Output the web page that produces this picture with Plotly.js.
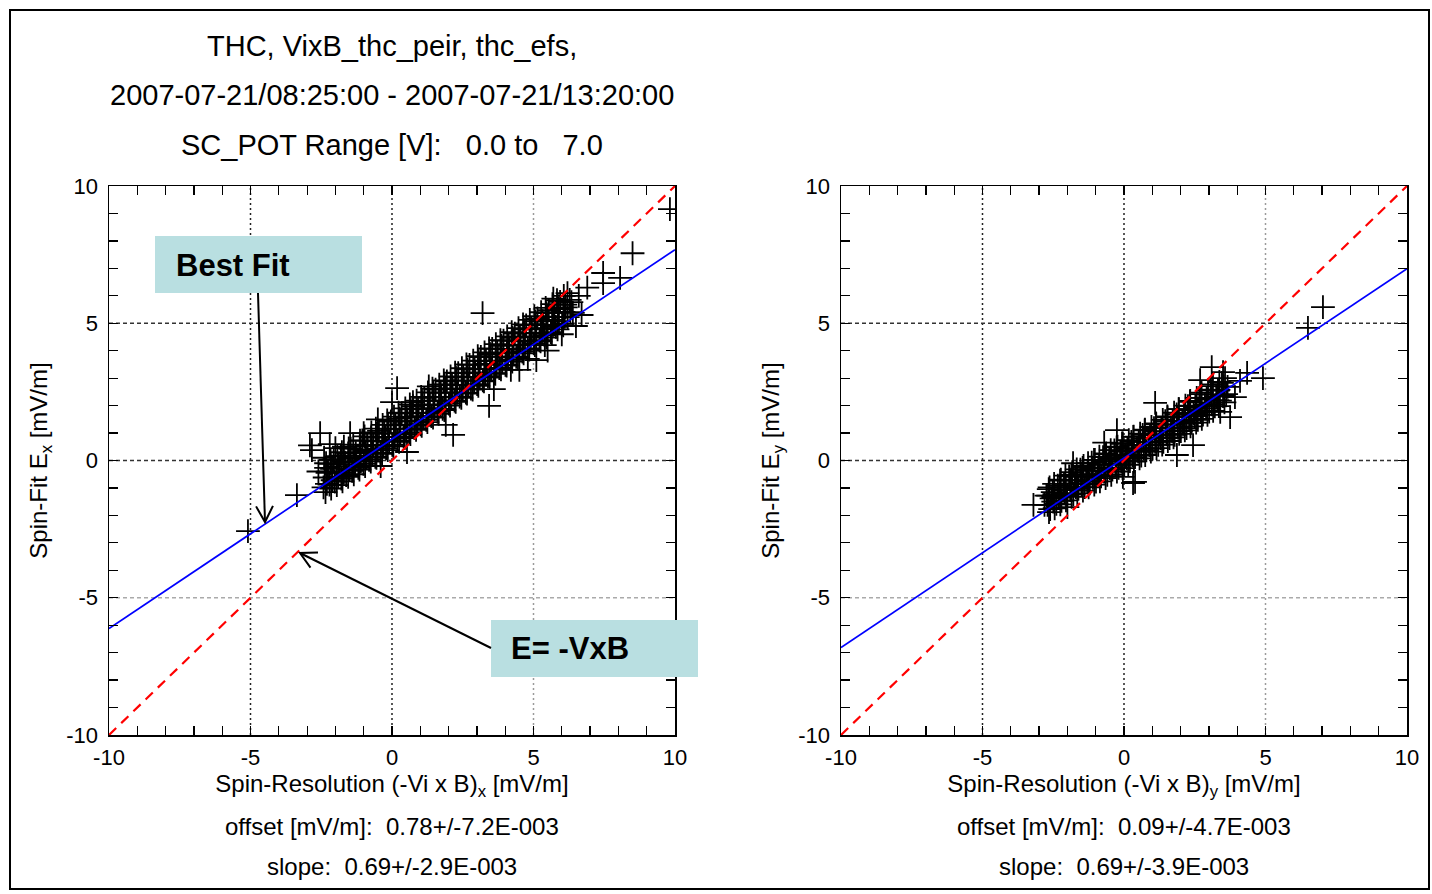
<!DOCTYPE html>
<html>
<head>
<meta charset="utf-8">
<script src="https://cdn.plot.ly/plotly-3.0.1.min.js"></script>
<style>html,body{margin:0;padding:0;background:#fff;}#chart{width:1432px;height:894px;}</style>
</head>
<body>
<div id="chart"></div>
<script>
// ---------------- DATA ----------------
const titleLines = ["THC, VixB_thc_peir, thc_efs,", "2007-07-21/08:25:00 - 2007-07-21/13:20:00", "SC_POT Range [V]:\u00a0\u00a0\u00a00.0 to\u00a0\u00a0\u00a07.0"];
const tickVals = [-10, -5, 0, 5, 10];
const tickText = ["-10", "-5", "0", "5", "10"];
const gridVals = [-5, 0, 5];
const lineX = [-10, 10];

// Left panel: Spin-Resolution (-Vi x B)x vs Spin-Fit Ex
const leftCoreX = [
 -2.42,-2.38,-2.33, -2.21,-2.26,-2.17, -2.02,-1.95,-2.06, -1.79,-1.86,-1.81, -1.62,-1.66,-1.55,
 -1.41,-1.34,-1.46, -1.19,-1.26,-1.14, -1.01,-0.94,-1.05, -0.81,-0.86,-0.74, -0.59,-0.66,-0.55,
 -0.41,-0.35,-0.46, -0.21,-0.24,-0.14, 0.01,0.06,-0.04, 0.19,0.14,0.26, 0.41,0.46,0.34,
 0.61,0.54,0.66, 0.79,0.86,0.74, 1.01,0.94,1.06, 1.21,1.26,1.14, 1.39,1.34,1.46,
 1.61,1.66,1.54, 1.79,1.74,1.86, 2.01,2.06,1.94, 2.21,2.14,2.26, 2.39,2.46,2.34,
 2.61,2.54,2.66, 2.79,2.86,2.74, 3.01,2.94,3.06, 3.21,3.26,3.14, 3.39,3.34,3.46,
 3.61,3.66,3.54, 3.79,3.74,3.86, 4.01,4.06,3.94, 4.21,4.14,4.26, 4.39,4.46,4.34,
 4.61,4.54,4.66, 4.79,4.86,4.74, 5.01,4.94,5.06, 5.21,5.26,5.14, 5.39,5.34,5.46,
 5.61,5.66,5.54, 5.79,5.74,5.86, 6.01,6.06,5.94, 6.21,6.14, 6.39,6.34,
 -2.3,-2.28, -2.1,-2.12, -1.9,-1.88, -1.7,-1.72, -1.5,-1.52, -1.3,-1.28, -1.1,-1.12, -0.9,-0.88,
 -0.7,-0.72, -0.5,-0.52, -0.3,-0.28, -0.1,-0.12, 0.1,0.12, 0.3,0.28, 0.5,0.52, 0.7,0.68,
 0.9,0.92, 1.1,1.08, 1.3,1.32, 1.5,1.48, 1.7,1.72, 1.9,1.88, 2.1,2.12, 2.3,2.28,
 2.5,2.52, 2.7,2.68, 2.9,2.92, 3.1,3.08, 3.3,3.32, 3.5,3.48, 3.7,3.72, 3.9,3.88,
 4.1,4.12, 4.3,4.28, 4.5,4.52, 4.7,4.68, 4.9,4.92, 5.1,5.08, 5.3,5.32, 5.5,5.48,
 5.7,5.72, 5.9,5.88, 6.1,6.12, 6.3,6.28
];
const leftCoreY = [
 -0.98,-0.62,-0.27, -0.88,-0.41,-0.12, -0.77,-0.43,0.04, -0.66,-0.22,0.18, -0.53,-0.08,0.26,
 -0.38,0.06,0.43, -0.27,0.17,0.52, -0.12,0.31,0.73, 0.02,0.38,0.84, 0.13,0.57,0.97,
 0.28,0.72,1.08, 0.44,0.86,1.31, 0.57,0.98,1.42, 0.73,1.16,1.53, 0.88,1.31,1.72,
 1.02,1.43,1.86, 1.18,1.62,1.98, 1.32,1.74,2.17, 1.48,1.91,2.28, 1.62,2.04,2.47,
 1.77,2.19,2.58, 1.88,2.32,2.77, 2.07,2.48,2.88, 2.18,2.63,3.03, 2.33,2.74,3.18,
 2.47,2.92,3.32, 2.62,3.03,3.48, 2.78,3.21,3.62, 2.92,3.33,3.77, 3.07,3.52,3.88,
 3.18,3.64,4.07, 3.37,3.78,4.18, 3.48,3.93,4.37, 3.67,4.06,4.47, 3.78,4.22,4.62,
 3.97,4.34,4.78, 4.08,4.52,4.92, 4.27,4.63,5.07, 4.38,4.82,5.18, 4.57,4.93,5.37,
 4.68,5.12,5.48, 4.87,5.22,5.67, 4.98,5.41,5.78, 5.22,5.58, 5.38,5.77,
 -0.85,-0.45, -0.72,-0.3, -0.6,-0.15, -0.45,-0.02, -0.32,0.12, -0.15,0.27, -0.02,0.4, 0.12,0.56,
 0.27,0.7, 0.42,0.83, 0.55,1.0, 0.7,1.15, 0.85,1.28, 1.0,1.43, 1.15,1.58, 1.3,1.72,
 1.43,1.88, 1.58,2.02, 1.73,2.17, 1.88,2.3, 2.02,2.46, 2.17,2.6, 2.3,2.75, 2.46,2.9,
 2.6,3.05, 2.75,3.18, 2.9,3.33, 3.04,3.48, 3.18,3.63, 3.33,3.78, 3.48,3.92, 3.62,4.07,
 3.77,4.2, 3.92,4.36, 4.06,4.5, 4.2,4.65, 4.36,4.8, 4.5,4.95, 4.65,5.08, 4.8,5.24,
 4.94,5.38, 5.08,5.52, 5.23,5.68, 5.4,5.85
];
const leftEdgeX = [
 -2.35,-2.33, -2.15,-2.17, -1.95,-1.93, -1.75,-1.77, -1.55,-1.53, -1.35,-1.37, -1.15,-1.13, -0.95,-0.97,
 -0.75,-0.73, -0.55,-0.57, -0.35,-0.33, -0.15,-0.17, 0.05,0.07, 0.25,0.23, 0.45,0.47, 0.65,0.63,
 0.85,0.87, 1.05,1.03, 1.25,1.27, 1.45,1.43, 1.65,1.67, 1.85,1.83, 2.05,2.07, 2.25,2.23,
 2.45,2.47, 2.65,2.63, 2.85,2.87, 3.05,3.03, 3.25,3.27, 3.45,3.43, 3.65,3.67, 3.85,3.83,
 4.05,4.07, 4.25,4.23, 4.45,4.47, 4.65,4.63, 4.85,4.87, 5.05,5.03, 5.25,5.27, 5.45,5.43,
 5.65,5.67, 5.85,5.83, 6.05,6.07
];
const leftEdgeY = [
 -1.15,-0.1, -1.02,0.02, -0.9,0.16, -0.76,0.3, -0.6,0.44, -0.5,0.58, -0.33,0.72, -0.2,0.88,
 -0.04,1.02, 0.1,1.16, 0.24,1.3, 0.38,1.46, 0.52,1.6, 0.68,1.74, 0.82,1.9, 0.96,2.04,
 1.12,2.18, 1.26,2.32, 1.4,2.48, 1.56,2.62, 1.7,2.76, 1.84,2.92, 2.0,3.06, 2.14,3.2,
 2.28,3.36, 2.44,3.5, 2.58,3.64, 2.72,3.8, 2.88,3.94, 3.02,4.08, 3.16,4.24, 3.32,4.38,
 3.46,4.52, 3.6,4.68, 3.76,4.82, 3.9,4.96, 4.04,5.12, 4.2,5.26, 4.34,5.4, 4.48,5.56,
 4.64,5.7, 4.78,5.84, 4.92,6.0
];
const leftOutX = [
 5.7,6.2,6.0,5.4,4.8,4.2,-2.6,-2.4,-2.0,-1.7,-1.0,-0.5,
 -5.09,-3.36,-2.54,-2.83,-2.9,-2.2,-1.48,-0.4,0.18,0.0,0.74,0.53,2.16,1.9,1.3,
 3.43,3.6,4.5,5.1,5.5,3.2,6.5,6.9,6.7,6.6,7.46,7.46,8.06,8.5,9.82
];
const leftOutY = [
 5.9,6.1,4.6,4.2,3.7,3.3,-0.4,0.1,0.45,0.5,1.0,1.5,
 -2.57,-1.26,1.0,0.38,0.55,0.6,1.0,-0.2,2.64,2.13,2.13,0.31,0.93,1.3,2.7,
 1.99,2.6,3.3,3.66,4.0,5.37,4.9,6.3,5.3,6.0,6.83,6.46,6.65,7.55,9.16
];
const leftOffset = 0.78, leftSlope = 0.69;

// Right panel: Spin-Resolution (-Vi x B)y vs Spin-Fit Ey
const rightCoreX = [
 -2.81,-2.74, -2.61,-2.56,-2.66, -2.39,-2.46,-2.34, -2.21,-2.14,-2.26, -2.01,-2.06,-1.94,
 -1.79,-1.74,-1.86, -1.61,-1.66,-1.54, -1.39,-1.34,-1.46, -1.21,-1.26,-1.14, -0.99,-0.94,-1.06,
 -0.81,-0.86,-0.74, -0.59,-0.54,-0.66, -0.41,-0.46,-0.34, -0.19,-0.14,-0.26, 0.01,0.06,-0.04,
 0.21,0.14,0.26, 0.39,0.46,0.34, 0.61,0.54,0.66, 0.79,0.86,0.74, 1.01,0.94,1.06,
 1.21,1.26,1.14, 1.39,1.34,1.46, 1.61,1.66,1.54, 1.79,1.74,1.86, 2.01,2.06,1.94,
 2.21,2.14,2.26, 2.39,2.46,2.34, 2.61,2.54,2.66, 2.79,2.86,2.74, 3.01,2.94,3.06,
 3.21,3.26,3.14, 3.39,3.34,3.46, 3.61,3.66,
 -2.7,-2.68, -2.5,-2.52, -2.3,-2.28, -2.1,-2.12, -1.9,-1.88, -1.7,-1.72, -1.5,-1.52, -1.3,-1.28,
 -1.1,-1.12, -0.9,-0.88, -0.7,-0.72, -0.5,-0.52, -0.3,-0.28, -0.1,-0.12, 0.1,0.12, 0.3,0.28,
 0.5,0.52, 0.7,0.68, 0.9,0.92, 1.1,1.08, 1.3,1.32, 1.5,1.48, 1.7,1.72, 1.9,1.88,
 2.1,2.12, 2.3,2.28, 2.5,2.52, 2.7,2.68, 2.9,2.92, 3.1,3.08, 3.3,3.32, 3.5,3.52
];
const rightCoreY = [
 -1.62,-1.28, -1.77,-1.38,-1.04, -1.58,-1.23,-0.92, -1.47,-1.08,-0.73, -1.28,-0.97,-0.58,
 -1.22,-0.83,-0.52, -1.03,-0.72,-0.33, -0.97,-0.58,-0.27, -0.83,-0.52,-0.08, -0.77,-0.38,0.02,
 -0.58,-0.27,0.12, -0.52,-0.13,0.23, -0.33,0.02,0.37, -0.27,0.12,0.48, -0.13,0.18,0.62,
 -0.02,0.37,0.68, 0.12,0.43,0.87, 0.18,0.57,0.93, 0.37,0.68,1.12, 0.43,0.82,1.18,
 0.57,0.93,1.32, 0.68,1.07,1.43, 0.82,1.18,1.57, 0.93,1.32,1.68, 1.07,1.43,1.87,
 1.18,1.62,1.98, 1.37,1.73,2.17, 1.48,1.92,2.28, 1.67,2.03,2.47, 1.78,2.22,2.58,
 1.97,2.33,2.77, 2.18,2.57,2.83, 2.42,2.68,
 -1.62,-1.28, -1.5,-1.15, -1.35,-1.0, -1.2,-0.85, -1.08,-0.72, -0.97,-0.6, -0.86,-0.5, -0.75,-0.38,
 -0.63,-0.28, -0.52,-0.16, -0.4,-0.04, -0.28,0.08, -0.15,0.2, -0.04,0.32, 0.08,0.44, 0.2,0.56,
 0.32,0.68, 0.44,0.8, 0.56,0.92, 0.68,1.05, 0.82,1.18, 0.95,1.3, 1.08,1.44, 1.2,1.57,
 1.34,1.7, 1.48,1.84, 1.62,1.98, 1.76,2.12, 1.9,2.26, 2.05,2.4, 2.2,2.55, 2.35,2.7
];
const rightEdgeX = [
 -2.65,-2.63, -2.45,-2.47, -2.25,-2.23, -2.05,-2.07, -1.85,-1.83, -1.65,-1.67, -1.45,-1.43, -1.25,-1.27,
 -1.05,-1.03, -0.85,-0.87, -0.65,-0.63, -0.45,-0.47, -0.25,-0.23, -0.05,-0.07, 0.15,0.17, 0.35,0.33,
 0.55,0.57, 0.75,0.73, 0.95,0.97, 1.15,1.13, 1.35,1.37, 1.55,1.53, 1.75,1.77, 1.95,1.93,
 2.15,2.17, 2.35,2.33, 2.55,2.57, 2.75,2.73, 2.95,2.97, 3.15,3.13, 3.35,3.37, 3.55,3.57
];
const rightEdgeY = [
 -1.88,-0.98, -1.74,-0.85, -1.6,-0.7, -1.45,-0.55, -1.32,-0.42, -1.2,-0.32, -1.1,-0.2, -0.98,-0.1,
 -0.88,0.02, -0.76,0.14, -0.64,0.26, -0.52,0.38, -0.4,0.5, -0.28,0.62, -0.16,0.74, -0.04,0.86,
 0.08,0.98, 0.2,1.1, 0.32,1.22, 0.45,1.35, 0.58,1.48, 0.71,1.61, 0.84,1.74, 0.97,1.87,
 1.1,2.0, 1.24,2.14, 1.38,2.28, 1.52,2.42, 1.66,2.56, 1.81,2.71, 1.98,2.86, 2.12,3.0
];
const rightOutX = [-3.2,-2.5,-2.0,-1.8,-0.7,-0.25,1.1,0.32,-0.04,0.39,1.87,2.44,3.1,3.5,3.92,3.75,3.4,4.35,4.1,2.69,4.91,6.5,7.03];
const rightOutY = [-1.62,-1.33,-1.7,-0.1,0.65,1.11,2.1,-0.82,-0.6,-0.78,0.2,0.56,3.4,3.22,2.31,1.58,1.77,3.19,2.9,2.93,3.0,4.83,5.59];
const rightOffset = 0.09, rightSlope = 0.69;

const panels = [
  {xs: leftCoreX.concat(leftEdgeX, leftOutX), ys: leftCoreY.concat(leftEdgeY, leftOutY),
   off: leftOffset, slope: leftSlope, xa: 'x', ya: 'y',
   xTitle: 'Spin-Resolution (-Vi x B)<sub>x</sub> [mV/m]', yTitle: 'Spin-Fit E<sub>x</sub> [mV/m]',
   offText: 'offset [mV/m]:\u00a0\u00a00.78+/-7.2E-003', slopeText: 'slope:\u00a0\u00a00.69+/-2.9E-003'},
  {xs: rightCoreX.concat(rightEdgeX, rightOutX), ys: rightCoreY.concat(rightEdgeY, rightOutY),
   off: rightOffset, slope: rightSlope, xa: 'x2', ya: 'y2',
   xTitle: 'Spin-Resolution (-Vi x B)<sub>y</sub> [mV/m]', yTitle: 'Spin-Fit E<sub>y</sub> [mV/m]',
   offText: 'offset [mV/m]:\u00a0\u00a00.09+/-4.7E-003', slopeText: 'slope:\u00a0\u00a00.69+/-3.9E-003'}
];

// ---------------- STYLE / LAYOUT ----------------
const W = 1432, H = 894;
const FONT = 'Liberation Sans, Arial, Helvetica, sans-serif';
const px = v => v / W, py = v => 1 - v / H;
const xDomains = [[px(109), px(675)], [px(841), px(1407)]];
const yDomain = [py(735), py(186)];
const centers = [px(392), px(1124)];

const traces = [];
panels.forEach(p => {
  traces.push({type: 'scatter', mode: 'markers', x: p.xs, y: p.ys, xaxis: p.xa, yaxis: p.ya,
    marker: {symbol: 'cross-thin', size: 17, line: {color: '#000', width: 1.8}}, hoverinfo: 'x+y'});
  traces.push({type: 'scatter', mode: 'lines', x: lineX, y: lineX.map(v => p.off + p.slope * v),
    xaxis: p.xa, yaxis: p.ya, line: {color: '#0000ff', width: 1.7}});
  traces.push({type: 'scatter', mode: 'lines', x: lineX, y: lineX.slice(), xaxis: p.xa, yaxis: p.ya,
    line: {color: '#ff0000', width: 2.2, dash: '10px,7px'}});
});

function axisCommon() {
  return {range: [-10, 10], tickmode: 'array', tickvals: tickVals, ticktext: tickText,
    ticks: 'inside', ticklen: 9, tickwidth: 1.2, tickcolor: '#000',
    minor: {tickmode: 'linear', tick0: 0, dtick: 1, ticks: 'inside', ticklen: 9, tickwidth: 1.2, tickcolor: '#000'},
    showline: true, linecolor: '#000', linewidth: 1.5, mirror: 'ticks', showgrid: false, zeroline: false,
    tickfont: {family: FONT, size: 22, color: '#000'}, fixedrange: true};
}
function xaxisDef(i, p) {
  return Object.assign(axisCommon(), {domain: xDomains[i], anchor: i === 0 ? 'y' : 'y2', ticklabelstandoff: 2,
    title: {text: p.xTitle, font: {family: FONT, size: 24, color: '#000'}, standoff: 2}});
}
function yaxisDef(i, p) {
  return Object.assign(axisCommon(), {domain: yDomain, anchor: i === 0 ? 'x' : 'x2', ticklabelstandoff: 5,
    title: {text: p.yTitle, font: {family: FONT, size: 24, color: '#000'}, standoff: 12}});
}

const shapes = [];
panels.forEach((p, i) => {
  gridVals.forEach(g => {
    const vcol = g === 5 ? '#9a9a9a' : '#222';
    const hcol = g === -5 ? '#aaaaaa' : '#333';
    shapes.push({type: 'line', layer: 'below', xref: p.xa, yref: p.ya + ' domain', x0: g, x1: g, y0: 0, y1: 1,
      line: {color: vcol, width: 1.5, dash: '2px,3px'}});
    shapes.push({type: 'line', layer: 'below', xref: p.xa + ' domain', yref: p.ya, x0: 0, x1: 1, y0: g, y1: g,
      line: {color: hcol, width: 1.5, dash: '4px,3px'}});
  });
});
// outer frame
shapes.push({type: 'rect', xref: 'paper', yref: 'paper', x0: px(10), x1: px(1429), y0: py(889), y1: py(10),
  line: {color: '#000', width: 2}, fillcolor: 'rgba(0,0,0,0)', layer: 'above'});
// callout boxes
const BOX = '#b9dfe1';
shapes.push({type: 'rect', xref: 'paper', yref: 'paper', x0: px(155), x1: px(362), y0: py(293), y1: py(236),
  line: {width: 0}, fillcolor: BOX, layer: 'above'});
shapes.push({type: 'rect', xref: 'paper', yref: 'paper', x0: px(491), x1: px(698), y0: py(677), y1: py(620),
  line: {width: 0}, fillcolor: BOX, layer: 'above'});
// callout arrows (open V heads), given in pixel positions
function arrowShapes(tail, head) {
  const dx = tail[0] - head[0], dy = tail[1] - head[1], L = Math.hypot(dx, dy);
  const bx = dx / L, by = dy / L, th = 28 * Math.PI / 180, len = 18;
  const a1 = [head[0] + len * (bx * Math.cos(th) - by * Math.sin(th)), head[1] + len * (bx * Math.sin(th) + by * Math.cos(th))];
  const a2 = [head[0] + len * (bx * Math.cos(th) + by * Math.sin(th)), head[1] + len * (-bx * Math.sin(th) + by * Math.cos(th))];
  const P = q => px(q[0]) + ',' + py(q[1]);
  return [
    {type: 'path', xref: 'paper', yref: 'paper', path: 'M' + P(tail) + 'L' + P(head), line: {color: '#000', width: 2}, layer: 'above'},
    {type: 'path', xref: 'paper', yref: 'paper', path: 'M' + P(a1) + 'L' + P(head) + 'L' + P(a2), line: {color: '#000', width: 2}, layer: 'above'}
  ];
}
shapes.push(...arrowShapes([258, 293], [265, 522]));
shapes.push(...arrowShapes([491, 648], [300, 553]));

const annotations = [];
[46, 95, 145].forEach((yy, k) => annotations.push({xref: 'paper', yref: 'paper', x: centers[0], y: py(yy),
  xanchor: 'center', yanchor: 'middle', showarrow: false, text: titleLines[k],
  font: {family: FONT, size: 29, color: '#000'}}));
panels.forEach((p, i) => {
  annotations.push({xref: 'paper', yref: 'paper', x: centers[i], y: py(826), xanchor: 'center', yanchor: 'middle',
    showarrow: false, text: p.offText, font: {family: FONT, size: 24, color: '#000'}});
  annotations.push({xref: 'paper', yref: 'paper', x: centers[i], y: py(866), xanchor: 'center', yanchor: 'middle',
    showarrow: false, text: p.slopeText, font: {family: FONT, size: 24, color: '#000'}});
});
annotations.push({xref: 'paper', yref: 'paper', x: px(174), y: py(265), xanchor: 'left', yanchor: 'middle',
  showarrow: false, text: '<b>Best Fit</b>', font: {family: FONT, size: 31, color: '#000'}});
annotations.push({xref: 'paper', yref: 'paper', x: px(509), y: py(648), xanchor: 'left', yanchor: 'middle',
  showarrow: false, text: '<b>E= -VxB</b>', font: {family: FONT, size: 31, color: '#000'}});

const layout = {
  width: W, height: H, margin: {l: 0, r: 0, t: 0, b: 0}, paper_bgcolor: '#fff', plot_bgcolor: '#fff',
  showlegend: false, font: {family: FONT, color: '#000'},
  xaxis: xaxisDef(0, panels[0]), yaxis: yaxisDef(0, panels[0]),
  xaxis2: xaxisDef(1, panels[1]), yaxis2: yaxisDef(1, panels[1]),
  shapes: shapes, annotations: annotations
};
Plotly.newPlot('chart', traces, layout, {displayModeBar: false, staticPlot: true});
</script>
</body>
</html>
